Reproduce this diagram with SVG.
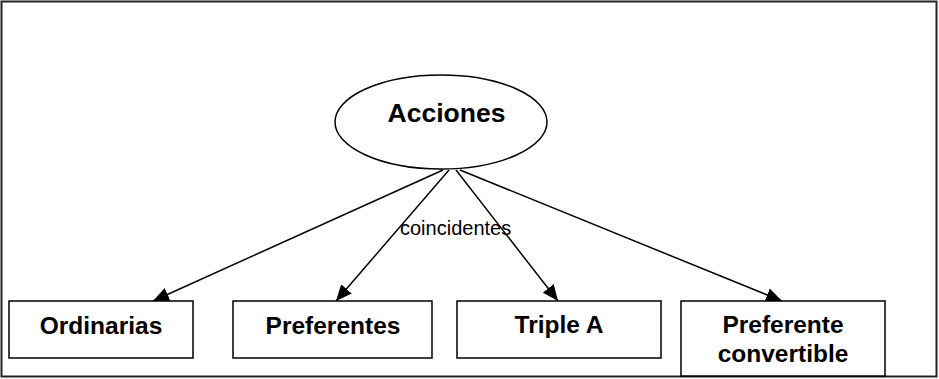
<svg xmlns="http://www.w3.org/2000/svg" width="939" height="379" viewBox="0 0 939 379">
<defs>
<style>
.box{fill:#fff;stroke:#000;stroke-width:1.5}
.lbl{font-family:"Liberation Sans",Arial,sans-serif;font-weight:bold;font-size:24.5px;text-anchor:middle;fill:#000}
.edge{stroke:#000;stroke-width:1.5;fill:none;marker-end:url(#arr)}
</style>
<marker id="arr" markerUnits="userSpaceOnUse" markerWidth="16" markerHeight="14" refX="16" refY="7" orient="auto">
<path d="M0,0 L16,7 L0,14 Z" fill="#000"/>
</marker>
</defs>
<rect width="939" height="379" fill="#fff"/>
<rect x="1.5" y="1.5" width="935" height="375" fill="none" stroke="#222" stroke-width="2"/>
<g id="connectors">
<line class="edge" x1="443" y1="170" x2="153" y2="301"/>
<line class="edge" x1="449" y1="170" x2="336" y2="301"/>
<line class="edge" x1="456" y1="170" x2="558" y2="301"/>
<line class="edge" x1="460" y1="170" x2="782" y2="301"/>
<text x="400" y="235" font-family="Liberation Sans, Arial, sans-serif" font-size="20" fill="#000">coincidentes</text>
</g>
<g id="acciones">
<ellipse cx="441" cy="122" rx="106" ry="47" fill="#fff" stroke="#000" stroke-width="1.5"/>
<text x="446.5" y="122" class="lbl" style="font-size:26.5px">Acciones</text>
</g>
<g id="ordinarias">
<rect class="box" x="9" y="301" width="184" height="57"/>
<text class="lbl" x="101" y="334">Ordinarias</text>
</g>
<g id="preferentes">
<rect class="box" x="233" y="301" width="199" height="57"/>
<text class="lbl" x="333" y="334">Preferentes</text>
</g>
<g id="triple-a">
<rect class="box" x="457" y="301" width="204" height="57"/>
<text class="lbl" x="559" y="333">Triple A</text>
</g>
<g id="preferente-convertible">
<rect class="box" x="681" y="301" width="204" height="75"/>
<text class="lbl" x="783" y="333">Preferente</text>
<text class="lbl" x="783" y="362">convertible</text>
</g>
</svg>
